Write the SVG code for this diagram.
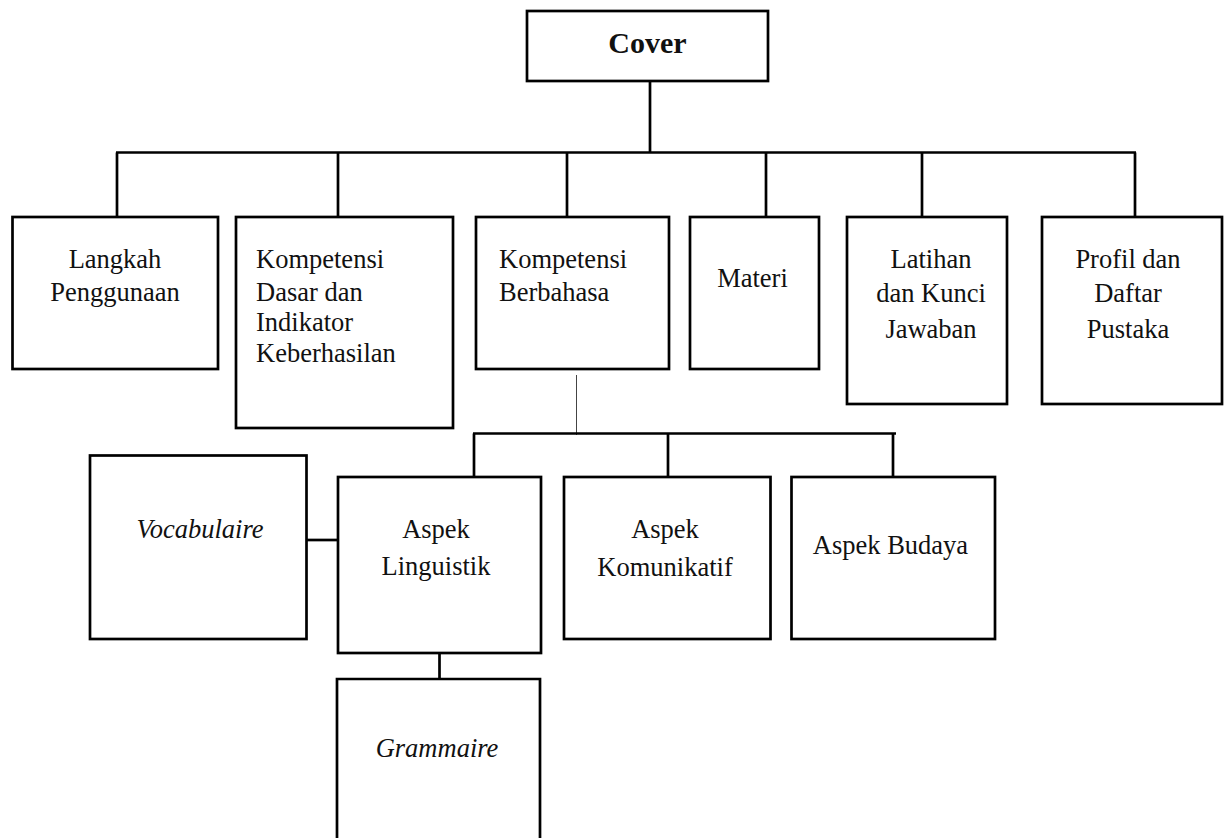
<svg xmlns="http://www.w3.org/2000/svg" width="1227" height="838" viewBox="0 0 1227 838">
<style>
.box{fill:#fff;stroke:#000;stroke-width:2.7}
.open{fill:none;stroke:#000;stroke-width:2.7}
.ln{fill:none;stroke:#000;stroke-width:2.7}
.thin{fill:none;stroke:#444;stroke-width:1}
text{font-family:"Liberation Serif","Times New Roman",serif;font-size:26.5px;fill:#111}
.c{text-anchor:middle}
.i{font-style:italic}
.b{font-weight:bold;font-size:30px}
</style>
<rect width="1227" height="838" fill="#fff"/>
<g id="connectors">
<line class="ln" x1="650" y1="81" x2="650" y2="152.5"/>
<line class="ln" x1="116" y1="152.5" x2="1136" y2="152.5"/>
<line class="ln" x1="117" y1="152.5" x2="117" y2="217"/>
<line class="ln" x1="338" y1="152.5" x2="338" y2="217"/>
<line class="ln" x1="567" y1="152.5" x2="567" y2="217"/>
<line class="ln" x1="766" y1="152.5" x2="766" y2="217"/>
<line class="ln" x1="922" y1="152.5" x2="922" y2="217"/>
<line class="ln" x1="1135" y1="152.5" x2="1135" y2="217"/>
<line class="thin" x1="576.5" y1="375" x2="576.5" y2="435"/>
<line class="ln" x1="473" y1="433.5" x2="896" y2="433.5"/>
<line class="ln" x1="474" y1="433.5" x2="474" y2="477"/>
<line class="ln" x1="668" y1="433.5" x2="668" y2="477"/>
<line class="ln" x1="893" y1="433.5" x2="893" y2="477"/>
<line class="ln" x1="307" y1="540" x2="338" y2="540"/>
<line class="ln" x1="439.5" y1="653" x2="439.5" y2="679"/>
</g>
<g id="cover">
<rect class="box" x="527" y="11" width="241" height="70"/>
<text class="c b" x="647.5" y="53">Cover</text>
</g>
<g id="langkah">
<rect class="box" x="12.5" y="217" width="205.5" height="152"/>
<text class="c" x="115" y="268">Langkah</text>
<text class="c" x="115" y="301">Penggunaan</text>
</g>
<g id="kompetensi-dasar">
<rect class="box" x="236" y="217" width="217" height="211"/>
<text x="256" y="268">Kompetensi</text>
<text x="256" y="301">Dasar dan</text>
<text x="256" y="331">Indikator</text>
<text x="256" y="362">Keberhasilan</text>
</g>
<g id="kompetensi-berbahasa">
<rect class="box" x="476" y="217" width="193" height="152"/>
<text x="499" y="268">Kompetensi</text>
<text x="499" y="301">Berbahasa</text>
</g>
<g id="materi">
<rect class="box" x="690" y="217" width="129" height="152"/>
<text class="c" x="752.5" y="287">Materi</text>
</g>
<g id="latihan">
<rect class="box" x="847" y="217" width="160" height="187"/>
<text class="c" x="931" y="268">Latihan</text>
<text class="c" x="931" y="301.5">dan Kunci</text>
<text class="c" x="931" y="338">Jawaban</text>
</g>
<g id="profil">
<rect class="box" x="1042" y="217" width="180" height="187"/>
<text class="c" x="1128" y="268">Profil dan</text>
<text class="c" x="1128" y="301.5">Daftar</text>
<text class="c" x="1128" y="338">Pustaka</text>
</g>
<g id="vocabulaire">
<rect class="box" x="90" y="455.5" width="216.5" height="183.5"/>
<text class="c i" x="200" y="538">Vocabulaire</text>
</g>
<g id="aspek-linguistik">
<rect class="box" x="338" y="477" width="203" height="176"/>
<text class="c" x="436" y="538">Aspek</text>
<text class="c" x="436" y="575">Linguistik</text>
</g>
<g id="aspek-komunikatif">
<rect class="box" x="564" y="477" width="206.5" height="162"/>
<text class="c" x="665" y="538">Aspek</text>
<text class="c" x="665" y="576">Komunikatif</text>
</g>
<g id="aspek-budaya">
<rect class="box" x="791.5" y="477" width="203.5" height="162"/>
<text class="c" x="890.5" y="554">Aspek Budaya</text>
</g>
<g id="grammaire">
<path class="open" d="M337 845 V679 H540 V845"/>
<text class="c i" x="437" y="757">Grammaire</text>
</g>
</svg>
